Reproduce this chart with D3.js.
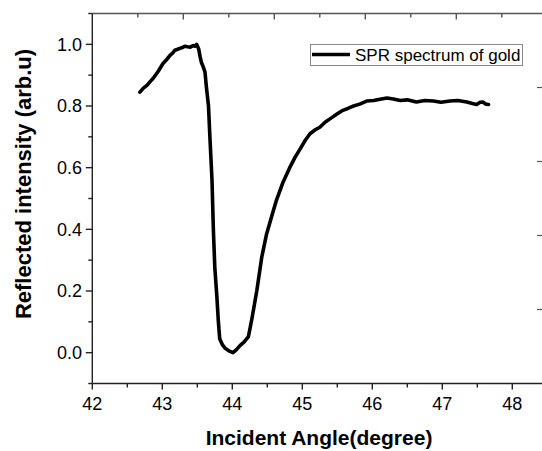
<!DOCTYPE html>
<html>
<head>
<meta charset="utf-8">
<script src="https://cdn.jsdelivr.net/npm/d3@7"></script>
<style>
  body { margin: 0; background: #fff; }
  text { font-family: "Liberation Sans", Arial, sans-serif; fill: #000; }
</style>
</head>
<body>
<div id="chart"></div>
<script>
// data (angle in degree, reflected intensity)
const angle = [42.68, 42.73, 42.78, 42.83, 42.87, 42.94, 43.01, 43.06, 43.11, 43.15, 43.18, 43.22, 43.25, 43.29, 43.32, 43.36, 43.40, 43.44, 43.47, 43.49,
  43.52, 43.54, 43.56, 43.58, 43.61, 43.63, 43.66, 43.68, 43.71, 43.73, 43.75, 43.78, 43.80, 43.82, 43.86, 43.90, 43.95, 44.01,
  44.06, 44.11, 44.17, 44.23, 44.28, 44.35, 44.42, 44.49, 44.56, 44.63, 44.72, 44.82, 44.90, 44.97, 45.04, 45.11, 45.18, 45.25,
  45.33, 45.40, 45.49, 45.58, 45.65, 45.72, 45.82, 45.92, 46.02, 46.11, 46.21, 46.30, 46.40, 46.50, 46.63, 46.75, 46.87,
  46.98, 47.11, 47.22, 47.35, 47.43, 47.49, 47.54, 47.58, 47.62, 47.66]
const intensity = [0.845, 0.858, 0.867, 0.880, 0.890, 0.912, 0.938, 0.950, 0.964, 0.972, 0.981, 0.984, 0.987, 0.990, 0.994, 0.992, 0.991, 0.996, 0.994, 1.000,
  0.985, 0.960, 0.940, 0.930, 0.910, 0.861, 0.800, 0.699, 0.560, 0.396, 0.277, 0.180, 0.104, 0.045, 0.025, 0.014, 0.006, 0.000,
  0.010, 0.023, 0.035, 0.052, 0.110, 0.201, 0.309, 0.385, 0.440, 0.494, 0.550, 0.600, 0.635, 0.661, 0.688, 0.710, 0.722, 0.731,
  0.748, 0.759, 0.773, 0.786, 0.792, 0.799, 0.806, 0.816, 0.818, 0.822, 0.826, 0.823, 0.818, 0.820, 0.813, 0.818, 0.816,
  0.812, 0.816, 0.818, 0.813, 0.808, 0.805, 0.812, 0.813, 0.806, 0.805]

const xTicks = [42, 43, 44, 45, 46, 47, 48]
const yTicks = [0.0, 0.2, 0.4, 0.6, 0.8, 1.0]
const legendLabel = "SPR spectrum of gold"

const width = 542
const height = 451
const plot = {left: 92.3, top: 13.5, bottom: 383.5, right: 545}

const svg = d3.select("#chart").append("svg")
    .attr("width", width)
    .attr("height", height)

// schalen
const x = d3.scaleLinear().domain([42, 48]).range([plot.left, plot.left + 420])
const y = d3.scaleLinear().domain([-0.1, 1.1]).range([plot.bottom, plot.top])

// schalen voor het restant van het frame (boven en rechts)
const xTop = d3.scaleLinear().domain([0, 5]).range([plot.left, plot.left + 455])
const yRight = d3.scaleLinear().domain([0, 5]).range([plot.bottom, plot.top])

// frame lijnen
svg.append("line")
    .attr("x1", plot.left).attr("x2", width)
    .attr("y1", plot.top).attr("y2", plot.top)
    .attr("stroke", "#555").attr("stroke-width", 1.6)
svg.append("line")
    .attr("x1", plot.left).attr("x2", width)
    .attr("y1", plot.bottom).attr("y2", plot.bottom)
    .attr("stroke", "#222").attr("stroke-width", 1.4)
svg.append("line")
    .attr("x1", plot.left).attr("x2", plot.left)
    .attr("y1", plot.top).attr("y2", plot.bottom)
    .attr("stroke", "#222").attr("stroke-width", 1.4)

// x-as onder
const xMinor = d3.range(42.5, 48.6, 1)
svg.append("g").selectAll("line").data(xTicks).enter().append("line")
    .attr("x1", d => x(d)).attr("x2", d => x(d))
    .attr("y1", plot.bottom).attr("y2", plot.bottom + 6)
    .attr("stroke", "#222").attr("stroke-width", 1.4)
svg.append("g").selectAll("line").data(xMinor).enter().append("line")
    .attr("x1", d => x(d)).attr("x2", d => x(d))
    .attr("y1", plot.bottom).attr("y2", plot.bottom + 4)
    .attr("stroke", "#222").attr("stroke-width", 1.4)
svg.append("g").selectAll("text").data(xTicks).enter().append("text")
    .attr("x", d => x(d))
    .attr("y", 410)
    .attr("text-anchor", "middle")
    .attr("font-size", "18px")
    .text(d => d)

// y-as links
const yMinor = d3.range(-0.1, 1.15, 0.2)
svg.append("g").selectAll("line").data(yTicks).enter().append("line")
    .attr("x1", plot.left - 6.5).attr("x2", plot.left)
    .attr("y1", d => y(d)).attr("y2", d => y(d))
    .attr("stroke", "#222").attr("stroke-width", 1.4)
svg.append("g").selectAll("line").data(yMinor).enter().append("line")
    .attr("x1", plot.left - 4).attr("x2", plot.left)
    .attr("y1", d => y(d)).attr("y2", d => y(d))
    .attr("stroke", "#222").attr("stroke-width", 1.4)
svg.append("g").selectAll("text").data(yTicks).enter().append("text")
    .attr("x", 82)
    .attr("y", d => y(d) + 6.4)
    .attr("text-anchor", "end")
    .attr("font-size", "18px")
    .text(d => d.toFixed(1))

// ticks op het bovenste frame
svg.append("g").selectAll("line").data(d3.range(0.5, 5.01, 0.5)).enter().append("line")
    .attr("x1", d => xTop(d)).attr("x2", d => xTop(d))
    .attr("y1", plot.top).attr("y2", d => plot.top + (d % 1 === 0 ? 6 : 4))
    .attr("stroke", "#555").attr("stroke-width", 1.4)

// ticks aan de rechterkant
svg.append("g").selectAll("line").data([1, 2, 3, 4]).enter().append("line")
    .attr("x1", 537).attr("x2", width)
    .attr("y1", d => yRight(d)).attr("y2", d => yRight(d))
    .attr("stroke", "#555").attr("stroke-width", 1.2)

// teken de curve
const data = angle.map((a, i) => ({a: a, v: intensity[i]}))
const line = d3.line()
    .x(d => x(d.a))
    .y(d => y(d.v))
svg.append("path")
    .datum(data)
    .attr("d", line)
    .attr("fill", "none")
    .attr("stroke", "#000")
    .attr("stroke-width", 3.6)
    .attr("stroke-linejoin", "round")
    .attr("stroke-linecap", "round")

// legenda
const legend = svg.append("g").attr("transform", "translate(310,44)")
legend.append("rect")
    .attr("x", 0.5).attr("y", 0.5)
    .attr("width", 212).attr("height", 21)
    .attr("fill", "#fff")
    .attr("stroke", "#888").attr("stroke-width", 1)
legend.append("line")
    .attr("x1", 2).attr("x2", 40)
    .attr("y1", 10.5).attr("y2", 10.5)
    .attr("stroke", "#000").attr("stroke-width", 3.6)
legend.append("text")
    .attr("x", 45)
    .attr("y", 16.5)
    .attr("font-size", "17px")
    .text(legendLabel)

// as titels
svg.append("text")
    .attr("x", 319)
    .attr("y", 445)
    .attr("text-anchor", "middle")
    .attr("font-size", "21px")
    .attr("font-weight", "bold")
    .text("Incident Angle(degree)")

svg.append("text")
    .attr("transform", "translate(31,184) rotate(-90)")
    .attr("text-anchor", "middle")
    .attr("font-size", "22px")
    .attr("font-weight", "bold")
    .text("Reflected intensity (arb.u)")
</script>
</body>
</html>
